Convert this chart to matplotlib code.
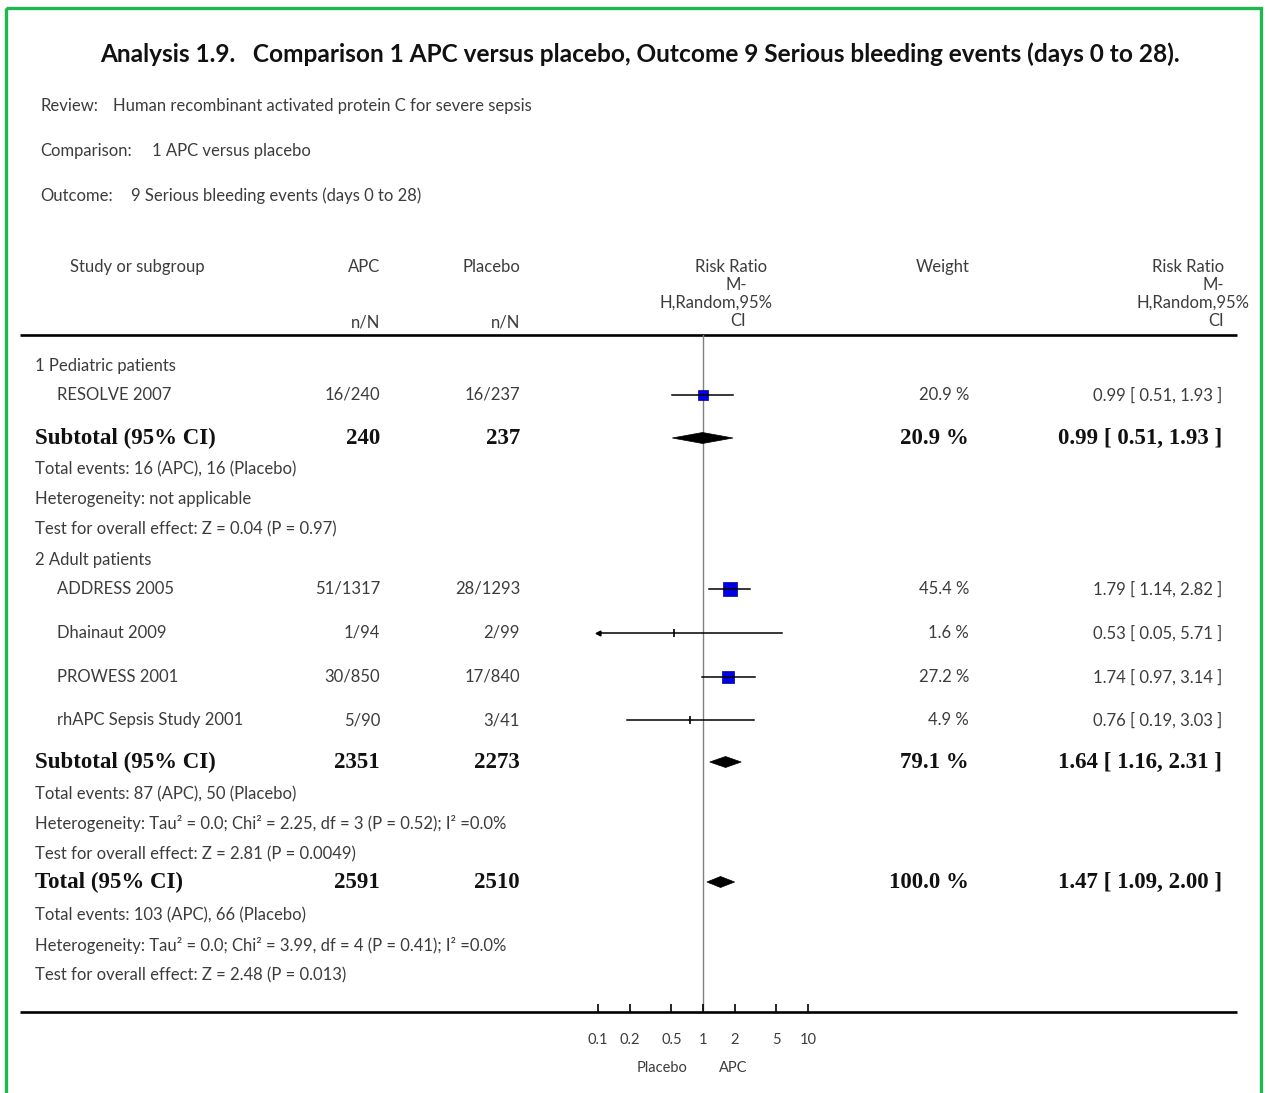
import numpy as np
import matplotlib
matplotlib.use("Agg")
import matplotlib.pyplot as plt
from matplotlib.patches import Polygon, Rectangle

# ---- data -------------------------------------------------------------
studies = ["RESOLVE 2007", "ADDRESS 2005", "Dhainaut 2009", "PROWESS 2001",
           "rhAPC Sepsis Study 2001"]
apc_events = [16, 51, 1, 30, 5]
apc_total = [240, 1317, 94, 850, 90]
plc_events = [16, 28, 2, 17, 3]
plc_total = [237, 1293, 99, 840, 41]
weights = [20.9, 45.4, 1.6, 27.2, 4.9]
rr = [0.99, 1.79, 0.53, 1.74, 0.76]
rr_lo = [0.51, 1.14, 0.05, 0.97, 0.19]
rr_hi = [1.93, 2.82, 5.71, 3.14, 3.03]

groups = ["1 Pediatric patients", "2 Adult patients"]
sub_apc_n = [240, 2351]
sub_plc_n = [237, 2273]
sub_weight = [20.9, 79.1]
sub_rr = [0.99, 1.64]
sub_lo = [0.51, 1.16]
sub_hi = [1.93, 2.31]
sub_notes = [
    ["Total events: 16 (APC), 16 (Placebo)",
     "Heterogeneity: not applicable",
     "Test for overall effect: Z = 0.04 (P = 0.97)"],
    ["Total events: 87 (APC), 50 (Placebo)",
     "Heterogeneity: Tau² = 0.0; Chi² = 2.25, df = 3 (P = 0.52); I² =0.0%",
     "Test for overall effect: Z = 2.81 (P = 0.0049)"],
]

total_apc_n = 2591
total_plc_n = 2510
total_weight = 100.0
total_rr, total_lo, total_hi = 1.47, 1.09, 2.00
total_notes = ["Total events: 103 (APC), 66 (Placebo)",
               "Heterogeneity: Tau² = 0.0; Chi² = 3.99, df = 4 (P = 0.41); I² =0.0%",
               "Test for overall effect: Z = 2.48 (P = 0.013)"]

tick_values = [0.1, 0.2, 0.5, 1, 2, 5, 10]
tick_labels = ["0.1", "0.2", "0.5", "1", "2", "5", "10"]

# ---- layout (pixel rows, top = 0) ------------------------------------
W, H = 1268, 1093
group_y = [366, 560]
study_y = [395, 589, 633, 677, 720]
sub_y = [438, 762]
sub_note_y = [[469, 499, 529], [794, 824, 854]]
total_y = 882
total_note_y = [915, 945, 975]
head_line_y = 335
axis_line_y = 1012
plot_x0, plot_x1 = 598, 808

SANS = "Lato"
SERIF = "Liberation Serif"
GREY = "#3c3c3c"
BLUE = "#0000e6"
fs = 12.0
fsb = 16.5

fig = plt.figure(figsize=(W / 100, H / 100), dpi=100)
bg = fig.add_axes([0, 0, 1, 1])
bg.set_xlim(0, W)
bg.set_ylim(H, 0)
bg.axis("off")

# green frame
bg.add_patch(Rectangle((6, 8), 1255, 1100, fill=False, ec="#1fb850", lw=2.4))

# title and description
bg.text(640, 54, "Analysis 1.9.   Comparison 1 APC versus placebo, Outcome 9 Serious "
        "bleeding events (days 0 to 28).", ha="center", va="center",
        fontsize=17.6, fontweight="bold", family=SANS, color="#111111")
for y, lab, x2, val in [(106, "Review:", 113, "Human recombinant activated protein C for severe sepsis"),
                        (151, "Comparison:", 152, "1 APC versus placebo"),
                        (196, "Outcome:", 131, "9 Serious bleeding events (days 0 to 28)")]:
    bg.text(40, y, lab, ha="left", va="center", fontsize=fs, family=SANS, color=GREY)
    bg.text(x2, y, val, ha="left", va="center", fontsize=fs, family=SANS, color=GREY)

# column headers
hdr = dict(va="center", fontsize=fs, family=SANS, color=GREY)
bg.text(70, 267, "Study or subgroup", ha="left", **hdr)
bg.text(380, 267, "APC", ha="right", **hdr)
bg.text(520, 267, "Placebo", ha="right", **hdr)
bg.text(380, 322, "n/N", ha="right", **hdr)
bg.text(520, 322, "n/N", ha="right", **hdr)
bg.text(943, 267, "Weight", ha="center", **hdr)
header_lines = [(731, 267, "Risk Ratio"), (736, 285, "M-"),
                (716, 303, "H,Random,95%"), (738, 321, "CI"),
                (1188, 267, "Risk Ratio"), (1213, 285, "M-"),
                (1193, 303, "H,Random,95%"), (1216, 321, "CI")]
for x, y, t in header_lines:
    bg.text(x, y, t, ha="center", **hdr)

# horizontal rules
bg.plot([20, 1237], [head_line_y, head_line_y], color="black", lw=1.9, solid_capstyle="butt")
bg.plot([20, 1237], [axis_line_y, axis_line_y], color="black", lw=1.9, solid_capstyle="butt")

# forest panel on a log axis
fx = plot_x0 / W
fw = (plot_x1 - plot_x0) / W
fy = 1 - axis_line_y / H
fh = (axis_line_y - head_line_y) / H
ax = fig.add_axes([fx, fy, fw, fh])
ax.set_xscale("log")
ax.set_xlim(tick_values[0], tick_values[-1])
ax.set_ylim(axis_line_y, head_line_y)
ax.patch.set_alpha(0)
for s in ax.spines.values():
    s.set_visible(False)
ax.set_yticks([])
ax.set_xticks(tick_values)
ax.set_xticklabels(tick_labels)
ax.minorticks_off()
ax.tick_params(axis="x", direction="in", length=5.5, width=1.2, pad=15,
               labelsize=10.5, labelcolor=GREY)
for lbl in ax.get_xticklabels():
    lbl.set_family(SANS)
ax.axvline(1, color="#808080", lw=1.0, zorder=1)

xmin = tick_values[0]
xmax = tick_values[-1]


def fmt_ci(r, lo, hi):
    return f"{r:.2f} [ {lo:.2f}, {hi:.2f} ]"


# study rows
for i, name in enumerate(studies):
    y = study_y[i]
    bg.text(57, y, name, ha="left", va="center", fontsize=fs, family=SANS, color=GREY)
    bg.text(380, y, f"{apc_events[i]}/{apc_total[i]}", ha="right", va="center",
            fontsize=fs, family=SANS, color=GREY)
    bg.text(520, y, f"{plc_events[i]}/{plc_total[i]}", ha="right", va="center",
            fontsize=fs, family=SANS, color=GREY)
    bg.text(969, y, f"{weights[i]:.1f} %", ha="right", va="center",
            fontsize=fs, family=SANS, color=GREY)
    bg.text(1222, y, fmt_ci(rr[i], rr_lo[i], rr_hi[i]), ha="right", va="center",
            fontsize=fs, family=SANS, color=GREY)

    lo = max(rr_lo[i], xmin)
    hi = min(rr_hi[i], xmax)
    side_px = 2.2 * np.sqrt(weights[i])
    if side_px > 6:
        ax.plot([rr[i]], [y], marker="s", ms=side_px * 0.72, mfc=BLUE, mec="#000080",
                mew=0.5, ls="none", zorder=3)
    else:
        ax.plot([rr[i]], [y], marker="|", ms=6, mew=1.2, color="black", zorder=4)
    ax.plot([lo, hi], [y, y], color="black", lw=1.1, zorder=4, clip_on=False)
    if rr_lo[i] < xmin:
        ax.plot([xmin], [y], marker="<", ms=3.5, color="black", zorder=4, clip_on=False)
    if rr_hi[i] > xmax:
        ax.plot([xmax], [y], marker=">", ms=3.5, color="black", zorder=4, clip_on=False)


def diamond(r, lo, hi, y, half=5.5):
    ax.add_patch(Polygon([[lo, y], [r, y - half], [hi, y], [r, y + half]],
                         closed=True, fc="black", ec="black", lw=0.5, zorder=5))


bold_serif = dict(va="center", fontsize=fsb, family=SERIF, fontweight="bold", color="#111111")

for g, gname in enumerate(groups):
    bg.text(35, group_y[g], gname, ha="left", va="center", fontsize=fs,
            family=SANS, color=GREY)
    y = sub_y[g]
    bg.text(35, y, "Subtotal (95% CI)", ha="left", **bold_serif)
    bg.text(380, y, f"{sub_apc_n[g]}", ha="right", **bold_serif)
    bg.text(520, y, f"{sub_plc_n[g]}", ha="right", **bold_serif)
    bg.text(969, y, f"{sub_weight[g]:.1f} %", ha="right", **bold_serif)
    bg.text(1222, y, fmt_ci(sub_rr[g], sub_lo[g], sub_hi[g]), ha="right", **bold_serif)
    diamond(sub_rr[g], sub_lo[g], sub_hi[g], y)
    for t, ty in zip(sub_notes[g], sub_note_y[g]):
        bg.text(35, ty, t, ha="left", va="center", fontsize=fs, family=SANS, color=GREY)

y = total_y
bg.text(35, y, "Total (95% CI)", ha="left", **bold_serif)
bg.text(380, y, f"{total_apc_n}", ha="right", **bold_serif)
bg.text(520, y, f"{total_plc_n}", ha="right", **bold_serif)
bg.text(969, y, f"{total_weight:.1f} %", ha="right", **bold_serif)
bg.text(1222, y, fmt_ci(total_rr, total_lo, total_hi), ha="right", **bold_serif)
diamond(total_rr, total_lo, total_hi, y)
for t, ty in zip(total_notes, total_note_y):
    bg.text(35, ty, t, ha="left", va="center", fontsize=fs, family=SANS, color=GREY)

# favours labels under the axis
bg.text(662, 1068, "Placebo", ha="center", va="center", fontsize=10.5, family=SANS, color=GREY)
bg.text(733, 1068, "APC", ha="center", va="center", fontsize=10.5, family=SANS, color=GREY)

fig.savefig("out.png", dpi=100, facecolor="white")
